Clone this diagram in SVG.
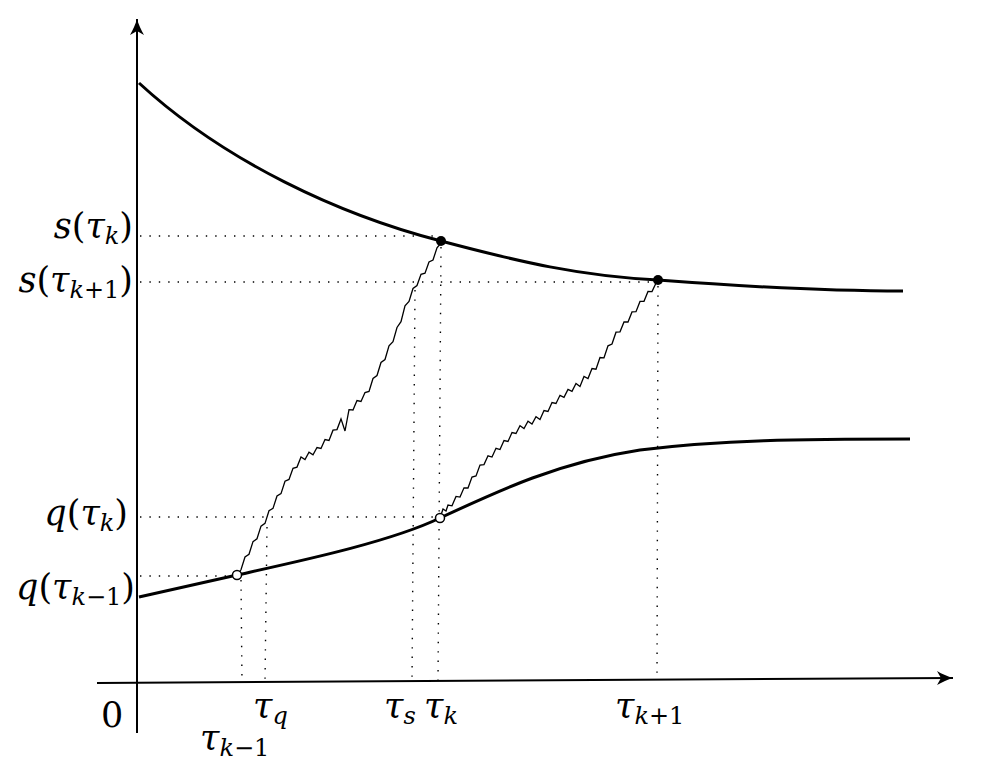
<svg xmlns="http://www.w3.org/2000/svg" width="990" height="763" viewBox="0 0 990 763">
<defs>
<style>
.axis{stroke:#000;stroke-width:2;fill:none}
.curve{stroke:#000;stroke-width:3;fill:none}
.dot{stroke:#000;stroke-width:1.4;stroke-dasharray:1.4 8;fill:none}
.zig{stroke:#000;stroke-width:1.3;fill:none;stroke-linejoin:miter}
.lbl{font-family:"DejaVu Serif","Liberation Serif",serif;font-size:35px;fill:#000}
.it{font-style:italic}
.sub{font-size:24px}
</style>
<marker id="arr" viewBox="-18 -8 20 16" markerWidth="20" markerHeight="16" refX="0" refY="0" markerUnits="userSpaceOnUse" orient="auto">
<path d="M0,0 C-5,-1.5 -11,-4 -16,-7 L-12,0 L-16,7 C-11,4 -5,1.5 0,0 Z" fill="#000"/>
</marker>
</defs>
<rect width="990" height="763" fill="#fff"/>
<g id="guides">
<line class="dot" x1="140" y1="236" x2="440" y2="236"/>
<line class="dot" x1="140" y1="282" x2="657" y2="282"/>
<line class="dot" x1="140" y1="517" x2="438" y2="517"/>
<line class="dot" x1="140" y1="576" x2="234" y2="576"/>
<line class="dot" x1="241" y1="580" x2="242" y2="682"/>
<line class="dot" x1="267" y1="527" x2="265" y2="682"/>
<line class="dot" x1="415" y1="290" x2="412" y2="681"/>
<line class="dot" x1="441" y1="247" x2="438" y2="681"/>
<line class="dot" x1="658" y1="286" x2="657" y2="680"/>
</g>
<g id="axes">
<line class="axis" x1="137" y1="733" x2="137" y2="19" marker-end="url(#arr)"/>
<line class="axis" x1="97" y1="683" x2="953" y2="678" marker-end="url(#arr)"/>
</g>
<g id="curves">
<path id="s-curve" class="curve" d="M139,83 C225,162 340,215 441,241 C520,262 580,276 658,280 C750,287 840,291 903,291"/>
<path id="q-curve" class="curve" d="M139,597 L237,575 C300,561 390,542 440,518 C500,490 560,462 640,450 C720,440 800,439 910,439"/>
</g>
<g id="paths">
<polyline class="zig" points="237,575 241,569.8 245,557 249,554.3 253,541.6 257,538.8 261,526.1 265,523.4 269,510.8 273,508.4 277,496 281,493.6 285,481.2 289,479.4 293,468.3 297,467.1 301,456.9 305,459.6 309,452.2 313,454.9 317,447.5 321,448.5 325,439.5 329,440.5 333,430.2 337,429.6 341,418.9 345,431 349,409.6 353,410 357,400.5 361,401.5 365,392.5 369,391.5 373,378.5 377,375.5 381,362.5 385,359.5 389,345.9 393,341.7 397,327.5 401,321.7 405,305.9 409,301.5 413,288.5 417,285.5 421,274.3 425,273.2 429,262 433,260 437,247.8 441,243"/>
<polyline class="zig" points="440,518 443,509 446,511 448,505.1 452,505.8 456,496.4 460,497.1 464,487.8 468,488 472,477 476,476 480,465 484,464.6 488,455.8 492,457 496,448.3 500,449.5 504,440.5 508,441.5 512,432.5 516,433.5 520,425.8 524,428.5 528,421.3 532,424 536,416.8 540,419.5 544,410.5 548,411.5 552,402.5 556,403.5 560,395.3 564,397.3 568,389.4 572,391.4 576,383.5 580,386.5 584,376.5 588,378.5 592,368.5 596,369.2 600,357.5 604,357.8 608,345.8 612,344 616,332.2 620,331.8 624,321.9 628,322 632,311.9 636,311.7 640,301.4 644,301.3 648,291.4 652,291.6 657,281"/>
</g>
<g id="points">
<circle cx="441" cy="241" r="5" fill="#000"/>
<circle cx="658" cy="280" r="5" fill="#000"/>
<circle cx="237" cy="575" r="4.5" fill="#fff" stroke="#000" stroke-width="1.5"/>
<circle cx="440" cy="518" r="4.5" fill="#fff" stroke="#000" stroke-width="1.5"/>
</g>
<g id="labels">
<text class="lbl" x="133" y="238" text-anchor="end"><tspan class="it">s</tspan>(<tspan class="it">τ</tspan><tspan class="sub it" dy="6">k</tspan><tspan dy="-6">)</tspan></text>
<text class="lbl" x="133" y="292" text-anchor="end"><tspan class="it">s</tspan>(<tspan class="it">τ</tspan><tspan class="sub" dy="6"><tspan class="it">k</tspan>+1</tspan><tspan dy="-6">)</tspan></text>
<text class="lbl" x="128" y="525" text-anchor="end"><tspan class="it">q</tspan>(<tspan class="it">τ</tspan><tspan class="sub it" dy="6">k</tspan><tspan dy="-6">)</tspan></text>
<text class="lbl" x="135" y="599" text-anchor="end"><tspan class="it">q</tspan>(<tspan class="it">τ</tspan><tspan class="sub" dy="6"><tspan class="it">k</tspan>−1</tspan><tspan dy="-6">)</tspan></text>
<text class="lbl" x="101" y="727">0</text>
<text class="lbl" x="253" y="718"><tspan class="it">τ</tspan><tspan class="sub it" dy="6">q</tspan></text>
<text class="lbl" x="200" y="750"><tspan class="it">τ</tspan><tspan class="sub" dy="6"><tspan class="it">k</tspan>−1</tspan></text>
<text class="lbl" x="384" y="718"><tspan class="it">τ</tspan><tspan class="sub it" dy="6">s</tspan></text>
<text class="lbl" x="424" y="718"><tspan class="it">τ</tspan><tspan class="sub it" dy="6">k</tspan></text>
<text class="lbl" x="615" y="718"><tspan class="it">τ</tspan><tspan class="sub" dy="6"><tspan class="it">k</tspan>+1</tspan></text>
</g>
</svg>
